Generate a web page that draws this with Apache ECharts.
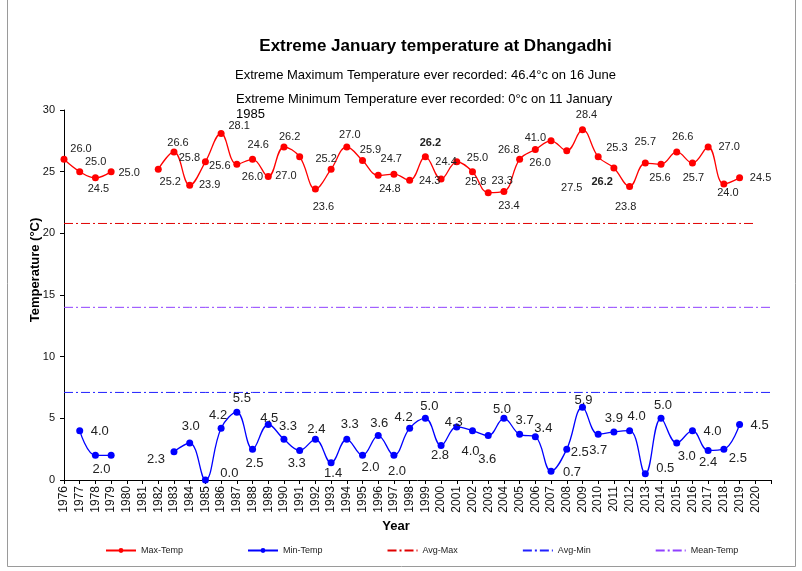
<!DOCTYPE html>
<html>
<head>
<meta charset="utf-8">
<script src="https://cdn.jsdelivr.net/npm/echarts@6/dist/echarts.min.js"></script>
<style>html,body{margin:0;padding:0;background:#fff}#c{width:802px;height:571px}</style>
</head>
<body>
<div id="c"></div>
<script>
// ---- data ----
const years = ['1976','1977','1978','1979','1980','1981','1982','1983','1984','1985','1986','1987','1988','1989','1990','1991','1992','1993','1994','1995','1996','1997','1998','1999','2000','2001','2002','2003','2004','2005','2006','2007','2008','2009','2010','2011','2012','2013','2014','2015','2016','2017','2018','2019','2020',''];

const maxTemp = [26.0,25.0,24.5,25.0,null,null,25.2,26.6,23.9,25.8,28.1,25.6,26.0,24.6,27.0,26.2,23.6,25.2,27.0,25.9,24.7,24.8,24.3,26.2,24.4,25.8,25.0,23.3,23.4,26.0,26.8,27.5,26.7,28.4,26.2,25.3,23.8,25.7,25.6,26.6,25.7,27.0,24.0,24.5,null,null];

const maxLabels = ['26.0','25.0','24.5','25.0','','','25.2','26.6','23.9','25.8','28.1','25.6','26.0','24.6','27.0','26.2','23.6','25.2','27.0','25.9','24.7','24.8','24.3','26.2','24.4','25.8','25.0','23.3','23.4','26.8','41.0','26.0','27.5','28.4','26.2','25.3','23.8','25.7','25.6','26.6','25.7','27.0','24.0','24.5','',''];

const minTemp = [null,4.0,2.0,2.0,null,null,null,2.3,3.0,0.0,4.2,5.5,2.5,4.5,3.3,2.4,3.3,1.4,3.3,2.0,3.6,2.0,4.2,5.0,2.8,4.3,4.0,3.6,5.0,3.7,3.5,0.7,2.5,5.9,3.7,3.9,4.0,0.5,5.0,3.0,4.0,2.4,2.5,4.5,null,null];

const minLabels = ['','4.0','2.0','','','','','2.3','3.0','0.0','4.2','5.5','2.5','4.5','3.3','3.3','2.4','1.4','3.3','2.0','3.6','2.0','4.2','5.0','2.8','4.3','4.0','3.6','5.0','3.7','3.4','0.7','2.5','5.9','3.7','3.9','4.0','0.5','5.0','3.0','4.0','2.4','2.5','4.5','',''];

const avgMax = [20.8,20.8,20.8,20.8,20.8,20.8,20.8,20.8,20.8,20.8,20.8,20.8,20.8,20.8,20.8,20.8,20.8,20.8,20.8,20.8,20.8,20.8,20.8,20.8,20.8,20.8,20.8,20.8,20.8,20.8,20.8,20.8,20.8,20.8,20.8,20.8,20.8,20.8,20.8,20.8,20.8,20.8,20.8,20.8,20.8,null];
const avgMin = [7.1,7.1,7.1,7.1,7.1,7.1,7.1,7.1,7.1,7.1,7.1,7.1,7.1,7.1,7.1,7.1,7.1,7.1,7.1,7.1,7.1,7.1,7.1,7.1,7.1,7.1,7.1,7.1,7.1,7.1,7.1,7.1,7.1,7.1,7.1,7.1,7.1,7.1,7.1,7.1,7.1,7.1,7.1,7.1,7.1,7.1];
const meanTemp = [14.0,14.0,14.0,14.0,14.0,14.0,14.0,14.0,14.0,14.0,14.0,14.0,14.0,14.0,14.0,14.0,14.0,14.0,14.0,14.0,14.0,14.0,14.0,14.0,14.0,14.0,14.0,14.0,14.0,14.0,14.0,14.0,14.0,14.0,14.0,14.0,14.0,14.0,14.0,14.0,14.0,14.0,14.0,14.0,14.0,14.0];

const boldMaxLabelYears = ['1999','2010'];

// ---- label placement (style only: offsets from each point, px) ----
const maxLabelOffsets = [[17,-10],[16,-10],[3,11],[18,1],[0,0],[0,0],[12,13],[4,-9],[20,0],[-16,-4],[18,-7],[-17,2],[0,18],[-10,-32],[2,29],[-10,-20],[8,18],[-5,-10],[3,-12],[8,-11],[13,-16],[-4,15],[20,1],[5,-14],[5,-17],[19,20],[5,-14],[14,-12],[5,15],[-11,-9],[0,-11],[-11,22],[5,37],[4,-15],[4,25],[3,-20],[-4,21],[0,-21],[-1,14],[6,-15],[1,15],[21,0],[4,9],[21,0],[0,0],[0,0]];
const minLabelOffsets = [[0,0],[20,1],[6,14],[0,0],[0,0],[0,0],[0,0],[-18,8],[1,-17],[24,-7],[-3,-13],[5,-14],[2,14],[1,-6],[4,-13],[-3,13],[1,-10],[2,11],[3,-15],[8,12],[1,-12],[3,16],[-6,-11],[4,-12],[-1,10],[-3,-5],[-2,21],[-1,24],[-2,-9],[5,-14],[8,-8],[21,1],[13,3],[1,-7],[0,16],[0,-13],[7,-14],[20,-5],[2,-13],[10,13],[20,1],[0,12],[14,9],[20,1],[0,0],[0,0]];

const FONT = '"Liberation Sans", Arial, sans-serif';

function buildData(vals, labels, offsets, size, boldYears) {
  return vals.map((v, i) => {
    if (v === null) return null;
    return {
      value: v,
      label: {
        show: labels[i] !== '',
        formatter: labels[i],
        position: 'inside',
        offset: offsets[i],
        fontSize: size,
        fontFamily: FONT,
        color: '#222',
        fontWeight: boldYears.indexOf(years[i]) >= 0 ? 'bold' : 'normal'
      }
    };
  });
}

const chart = echarts.init(document.getElementById('c'), null, {renderer: 'canvas'});
chart.setOption({
  animation: false,
  backgroundColor: '#fff',
  textStyle: {fontFamily: FONT},
  grid: {left: 64, right: 31, top: 110, bottom: 91, containLabel: false, outerBoundsMode: 'none'},
  legend: {
    left: 100, top: 541,
    itemWidth: 30, itemHeight: 6, itemGap: 64,
    textStyle: {fontSize: 9, color: '#222', fontFamily: FONT},
    data: [
      {name: 'Max-Temp'},
      {name: 'Min-Temp'},
      {name: 'Avg-Max', itemStyle: {opacity: 0}},
      {name: 'Avg-Min', itemStyle: {opacity: 0}},
      {name: 'Mean-Temp', itemStyle: {opacity: 0}}
    ]
  },
  xAxis: {
    type: 'category',
    data: years,
    boundaryGap: false,
    axisLine: {lineStyle: {color: '#000', width: 1}},
    axisTick: {show: true, interval: 0, length: 4, lineStyle: {color: '#000'}},
    axisLabel: {interval: 0, rotate: 90, fontSize: 12, color: '#111', margin: 6, fontFamily: FONT},
    splitLine: {show: false}
  },
  yAxis: {
    type: 'value',
    min: 0, max: 30, interval: 5,
    axisLine: {show: true, lineStyle: {color: '#000', width: 1}},
    axisTick: {show: true, length: 4, lineStyle: {color: '#000'}},
    axisLabel: {fontSize: 11, color: '#111', margin: 9, fontFamily: FONT},
    splitLine: {show: false}
  },
  graphic: [
    {type: 'polyline', shape: {points: [[7.5, 0], [7.5, 566.5], [795.5, 566.5], [795.5, 0]]}, style: {fill: 'none', stroke: '#9a9a9a', lineWidth: 1}, silent: true},
    {type: 'text', x: 435.5, y: 46, style: {text: 'Extreme January temperature at Dhangadhi', font: 'bold 17px ' + FONT, fill: '#000', textAlign: 'center', textVerticalAlign: 'middle'}},
    {type: 'text', x: 235, y: 75, style: {text: 'Extreme Maximum Temperature ever recorded: 46.4°c on 16 June', font: '13px ' + FONT, fill: '#000', textAlign: 'left', textVerticalAlign: 'middle'}},
    {type: 'text', x: 236, y: 99, style: {text: 'Extreme Minimum Temperature ever recorded: 0°c on 11 January', font: '13px ' + FONT, fill: '#000', textAlign: 'left', textVerticalAlign: 'middle'}},
    {type: 'text', x: 236, y: 114, style: {text: '1985', font: '13px ' + FONT, fill: '#000', textAlign: 'left', textVerticalAlign: 'middle'}},
    {type: 'text', x: 396, y: 526, style: {text: 'Year', font: 'bold 13px ' + FONT, fill: '#000', textAlign: 'center', textVerticalAlign: 'middle'}},
    {type: 'text', x: 35, y: 270, rotation: Math.PI / 2, style: {text: 'Temperature (°C)', font: 'bold 13px ' + FONT, fill: '#000', textAlign: 'center', textVerticalAlign: 'middle'}}
  ],
  series: [
    {
      name: 'Max-Temp', type: 'line', smooth: 0.4, connectNulls: false,
      symbol: 'circle', symbolSize: 7,
      itemStyle: {color: '#ff0000'},
      lineStyle: {color: '#ff0000', width: 1.3},
      data: buildData(maxTemp, maxLabels, maxLabelOffsets, 11, boldMaxLabelYears),
      z: 5
    },
    {
      name: 'Min-Temp', type: 'line', smooth: 0.4, connectNulls: false,
      symbol: 'circle', symbolSize: 7,
      itemStyle: {color: '#0000ff'},
      lineStyle: {color: '#0000ff', width: 1.3},
      data: buildData(minTemp, minLabels, minLabelOffsets, 13, []),
      z: 5
    },
    {
      name: 'Avg-Max', type: 'line', symbol: 'none', showSymbol: false,
      itemStyle: {color: '#e00000'},
      lineStyle: {color: '#e00000', width: 1, type: [9,3,2,3]},
      data: avgMax, z: 3
    },
    {
      name: 'Avg-Min', type: 'line', symbol: 'none', showSymbol: false,
      itemStyle: {color: '#2020ff'},
      lineStyle: {color: '#2020ff', width: 1, type: [9,3,2,3]},
      data: avgMin, z: 3
    },
    {
      name: 'Mean-Temp', type: 'line', symbol: 'none', showSymbol: false,
      itemStyle: {color: '#9040ff'},
      lineStyle: {color: '#9040ff', width: 1, type: [9,3,2,3]},
      data: meanTemp, z: 3
    }
  ]
});
</script>
</body>
</html>
